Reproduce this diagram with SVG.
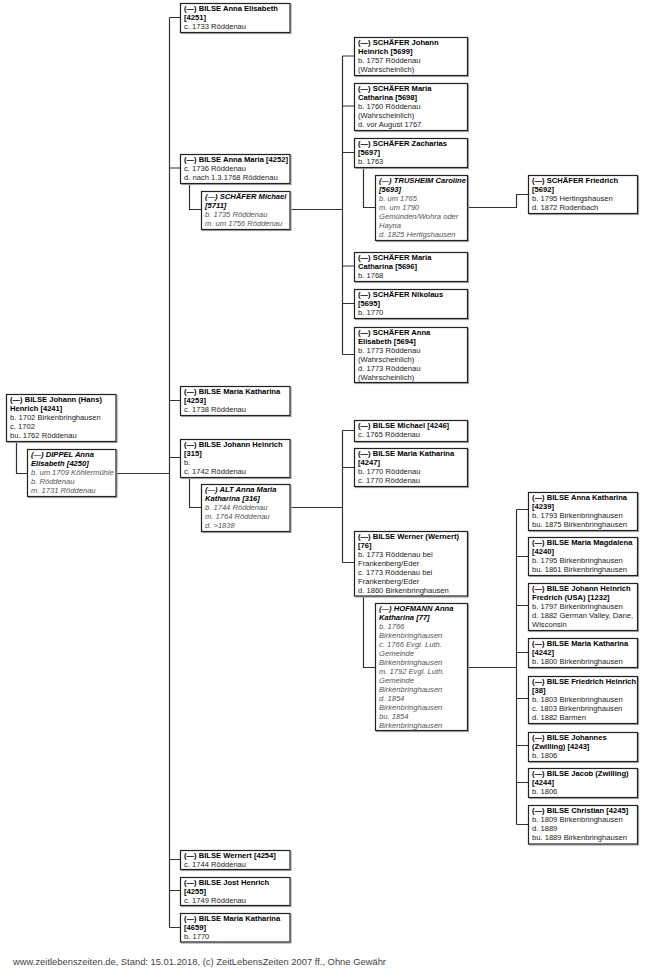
<svg xmlns="http://www.w3.org/2000/svg" width="650" height="969" viewBox="0 0 650 969">
<defs><filter id="sh" x="-5%" y="-5%" width="115%" height="120%"><feDropShadow dx="1" dy="1" stdDeviation="0" flood-color="#a0a0a0"/></filter></defs>
<style>
text{font-family:"Liberation Sans",Arial,sans-serif;font-size:7.6px;fill:#222}
.bx{fill:#fff;stroke:#222;stroke-width:1.2;filter:url(#sh)}
.b{font-weight:bold;fill:#000}
.bi{font-weight:bold;font-style:italic;fill:#000}
.i{font-style:italic;fill:#555}
.c{fill:none;stroke:#333;stroke-width:1.2}
.ft{font-size:9.4px;fill:#444}
</style>
<rect width="650" height="969" fill="#fff"/>
<g id="connectors">
<path class="c" d="M169.5 17.5V927.5M169.5 17.5H180M169.5 168H180M169.5 400.5H180M169.5 457.5H180M169.5 859.5H180M169.5 890.5H180M169.5 927.5H180"/>
<path class="c" d="M16.5 441V473.5H27M116 473.5H169.5"/>
<path class="c" d="M189.5 183V209.5H201M290 209.5H342.5"/>
<path class="c" d="M342.5 56V354.5M342.5 56H354M342.5 106H354M342.5 152.5H354M342.5 266H354M342.5 303.5H354M342.5 354.5H354"/>
<path class="c" d="M363.5 167V207.5H375M467 207.5H516.5V194.5H528"/>
<path class="c" d="M189.5 477V507.5H201M290 507.5H342.5"/>
<path class="c" d="M342.5 430.5V562.5M342.5 430.5H354M342.5 467.5H354M342.5 562.5H354"/>
<path class="c" d="M363.5 596V667.5H375M467 667.5H516.5"/>
<path class="c" d="M516.5 509.5V824.5M516.5 509.5H528M516.5 556.5H528M516.5 605.5H528M516.5 652.5H528M516.5 698.5H528M516.5 745.5H528M516.5 782.5H528M516.5 824.5H528"/>
</g>
<g id="n4241"><rect class="bx" x="6.5" y="394.5" width="109.5" height="47"/><text x="10" y="402.3"><tspan class="b">(—) BILSE Johann (Hans)</tspan><tspan class="b" x="10" dy="8.9">Henrich [4241]</tspan><tspan x="10" dy="8.9">b. 1702 Birkenbringhausen</tspan><tspan x="10" dy="8.9">c. 1702</tspan><tspan x="10" dy="8.9">bu. 1762 Röddenau</tspan></text></g>
<g id="n4250"><rect class="bx" x="27.5" y="449.5" width="88.5" height="47"/><text x="31" y="457.3"><tspan class="bi">(—) DIPPEL Anna</tspan><tspan class="bi" x="31" dy="8.9">Elisabeth [4250]</tspan><tspan class="i" x="31" dy="8.9">b. um 1709 Köhlermühle</tspan><tspan class="i" x="31" dy="8.9">b. Röddenau</tspan><tspan class="i" x="31" dy="8.9">m. 1731 Röddenau</tspan></text></g>
<g id="n4251"><rect class="bx" x="180.5" y="3.5" width="109.5" height="29"/><text x="184" y="11.3"><tspan class="b">(—) BILSE Anna Elisabeth</tspan><tspan class="b" x="184" dy="8.9">[4251]</tspan><tspan x="184" dy="8.9">c. 1733 Röddenau</tspan></text></g>
<g id="n4252"><rect class="bx" x="180.5" y="154.5" width="109.5" height="29"/><text x="184" y="162.3"><tspan class="b">(—) BILSE Anna Maria [4252]</tspan><tspan x="184" dy="8.9">c. 1736 Röddenau</tspan><tspan x="184" dy="8.9">d. nach 1.3.1768 Röddenau</tspan></text></g>
<g id="n5711"><rect class="bx" x="201.5" y="191.5" width="88.5" height="38"/><text x="205" y="199.3"><tspan class="bi">(—) SCHÄFER Michael</tspan><tspan class="bi" x="205" dy="8.9">[5711]</tspan><tspan class="i" x="205" dy="8.9">b. 1735 Röddenau</tspan><tspan class="i" x="205" dy="8.9">m. um 1756 Röddenau</tspan></text></g>
<g id="n5699"><rect class="bx" x="354.5" y="37.5" width="113" height="38"/><text x="358" y="45.3"><tspan class="b">(—) SCHÄFER Johann</tspan><tspan class="b" x="358" dy="8.9">Heinrich [5699]</tspan><tspan x="358" dy="8.9">b. 1757 Röddenau</tspan><tspan x="358" dy="8.9">(Wahrscheinlich)</tspan></text></g>
<g id="n5698"><rect class="bx" x="354.5" y="83.5" width="113" height="47"/><text x="358" y="91.3"><tspan class="b">(—) SCHÄFER Maria</tspan><tspan class="b" x="358" dy="8.9">Catharina [5698]</tspan><tspan x="358" dy="8.9">b. 1760 Röddenau</tspan><tspan x="358" dy="8.9">(Wahrscheinlich)</tspan><tspan x="358" dy="8.9">d. vor August 1767</tspan></text></g>
<g id="n5697"><rect class="bx" x="354.5" y="138.5" width="113" height="29"/><text x="358" y="146.3"><tspan class="b">(—) SCHÄFER Zacharias</tspan><tspan class="b" x="358" dy="8.9">[5697]</tspan><tspan x="358" dy="8.9">b. 1763</tspan></text></g>
<g id="n5693"><rect class="bx" x="375.5" y="175.5" width="92" height="65"/><text x="379" y="183.3"><tspan class="bi">(—) TRUSHEIM Caroline</tspan><tspan class="bi" x="379" dy="8.9">[5693]</tspan><tspan class="i" x="379" dy="8.9">b. um 1765</tspan><tspan class="i" x="379" dy="8.9">m. um 1790</tspan><tspan class="i" x="379" dy="8.9">Gemünden/Wohra oder</tspan><tspan class="i" x="379" dy="8.9">Hayna</tspan><tspan class="i" x="379" dy="8.9">d. 1825 Hertigshausen</tspan></text></g>
<g id="n5692"><rect class="bx" x="528.5" y="175.5" width="109" height="38"/><text x="532" y="183.3"><tspan class="b">(—) SCHÄFER Friedrich</tspan><tspan class="b" x="532" dy="8.9">[5692]</tspan><tspan x="532" dy="8.9">b. 1795 Hertingshausen</tspan><tspan x="532" dy="8.9">d. 1872 Rodenbach</tspan></text></g>
<g id="n5696"><rect class="bx" x="354.5" y="252.5" width="113" height="29"/><text x="358" y="260.3"><tspan class="b">(—) SCHÄFER Maria</tspan><tspan class="b" x="358" dy="8.9">Catharina [5696]</tspan><tspan x="358" dy="8.9">b. 1768</tspan></text></g>
<g id="n5695"><rect class="bx" x="354.5" y="289.5" width="113" height="29"/><text x="358" y="297.3"><tspan class="b">(—) SCHÄFER Nikolaus</tspan><tspan class="b" x="358" dy="8.9">[5695]</tspan><tspan x="358" dy="8.9">b. 1770</tspan></text></g>
<g id="n5694"><rect class="bx" x="354.5" y="327.5" width="113" height="55"/><text x="358" y="335.3"><tspan class="b">(—) SCHÄFER Anna</tspan><tspan class="b" x="358" dy="8.9">Elisabeth [5694]</tspan><tspan x="358" dy="8.9">b. 1773 Röddenau</tspan><tspan x="358" dy="8.9">(Wahrscheinlich)</tspan><tspan x="358" dy="8.9">d. 1773 Röddenau</tspan><tspan x="358" dy="8.9">(Wahrscheinlich)</tspan></text></g>
<g id="n4253"><rect class="bx" x="180.5" y="386.5" width="109.5" height="29"/><text x="184" y="394.3"><tspan class="b">(—) BILSE Maria Katharina</tspan><tspan class="b" x="184" dy="8.9">[4253]</tspan><tspan x="184" dy="8.9">c. 1738 Röddenau</tspan></text></g>
<g id="n315"><rect class="bx" x="180.5" y="439.5" width="109.5" height="38"/><text x="184" y="447.3"><tspan class="b">(—) BILSE Johann Heinrich</tspan><tspan class="b" x="184" dy="8.9">[315]</tspan><tspan x="184" dy="8.9">b.</tspan><tspan x="184" dy="8.9">c. 1742 Röddenau</tspan></text></g>
<g id="n316"><rect class="bx" x="201.5" y="484.5" width="88.5" height="47"/><text x="205" y="492.3"><tspan class="bi">(—) ALT Anna Maria</tspan><tspan class="bi" x="205" dy="8.9">Katharina [316]</tspan><tspan class="i" x="205" dy="8.9">b. 1744 Röddenau</tspan><tspan class="i" x="205" dy="8.9">m. 1764 Röddenau</tspan><tspan class="i" x="205" dy="8.9">d. &gt;1838</tspan></text></g>
<g id="n4246"><rect class="bx" x="354.5" y="420.5" width="113" height="21"/><text x="358" y="428.3"><tspan class="b">(—) BILSE Michael [4246]</tspan><tspan x="358" dy="8.9">c. 1765 Röddenau</tspan></text></g>
<g id="n4247"><rect class="bx" x="354.5" y="448.5" width="113" height="38"/><text x="358" y="456.3"><tspan class="b">(—) BILSE Maria Katharina</tspan><tspan class="b" x="358" dy="8.9">[4247]</tspan><tspan x="358" dy="8.9">b. 1770 Röddenau</tspan><tspan x="358" dy="8.9">c. 1770 Röddenau</tspan></text></g>
<g id="n76"><rect class="bx" x="354.5" y="531.5" width="113" height="64.5"/><text x="358" y="539.3"><tspan class="b">(—) BILSE Werner (Wernert)</tspan><tspan class="b" x="358" dy="8.9">[76]</tspan><tspan x="358" dy="8.9">b. 1773 Röddenau bei</tspan><tspan x="358" dy="8.9">Frankenberg/Eder</tspan><tspan x="358" dy="8.9">c. 1773 Röddenau bei</tspan><tspan x="358" dy="8.9">Frankenberg/Eder</tspan><tspan x="358" dy="8.9">d. 1860 Birkenbringhausen</tspan></text></g>
<g id="n77"><rect class="bx" x="375.5" y="603.5" width="92" height="127"/><text x="379" y="611.3"><tspan class="bi">(—) HOFMANN Anna</tspan><tspan class="bi" x="379" dy="8.95">Katharina [77]</tspan><tspan class="i" x="379" dy="8.95">b. 1766</tspan><tspan class="i" x="379" dy="8.95">Birkenbringhausen</tspan><tspan class="i" x="379" dy="8.95">c. 1766 Evgl. Luth.</tspan><tspan class="i" x="379" dy="8.95">Gemeinde</tspan><tspan class="i" x="379" dy="8.95">Birkenbringhausen</tspan><tspan class="i" x="379" dy="8.95">m. 1792 Evgl. Luth.</tspan><tspan class="i" x="379" dy="8.95">Gemeinde</tspan><tspan class="i" x="379" dy="8.95">Birkenbringhausen</tspan><tspan class="i" x="379" dy="8.95">d. 1854</tspan><tspan class="i" x="379" dy="8.95">Birkenbringhausen</tspan><tspan class="i" x="379" dy="8.95">bu. 1854</tspan><tspan class="i" x="379" dy="8.95">Birkenbringhausen</tspan></text></g>
<g id="n4239"><rect class="bx" x="528.5" y="492.5" width="109" height="38"/><text x="532" y="500.3"><tspan class="b">(—) BILSE Anna Katharina</tspan><tspan class="b" x="532" dy="8.9">[4239]</tspan><tspan x="532" dy="8.9">b. 1793 Birkenbringhausen</tspan><tspan x="532" dy="8.9">bu. 1875 Birkenbringhausen</tspan></text></g>
<g id="n4240"><rect class="bx" x="528.5" y="537.5" width="109" height="38"/><text x="532" y="545.3"><tspan class="b">(—) BILSE Maria Magdalena</tspan><tspan class="b" x="532" dy="8.9">[4240]</tspan><tspan x="532" dy="8.9">b. 1795 Birkenbringhausen</tspan><tspan x="532" dy="8.9">bu. 1861 Birkenbringhausen</tspan></text></g>
<g id="n1232"><rect class="bx" x="528.5" y="583.5" width="109" height="47"/><text x="532" y="591.3"><tspan class="b">(—) BILSE Johann Heinrich</tspan><tspan class="b" x="532" dy="8.9">Fredrich (USA) [1232]</tspan><tspan x="532" dy="8.9">b. 1797 Birkenbringhausen</tspan><tspan x="532" dy="8.9">d. 1882 German Valley, Dane,</tspan><tspan x="532" dy="8.9">Wisconsin</tspan></text></g>
<g id="n4242"><rect class="bx" x="528.5" y="638.5" width="109" height="29"/><text x="532" y="646.3"><tspan class="b">(—) BILSE Maria Katharina</tspan><tspan class="b" x="532" dy="8.9">[4242]</tspan><tspan x="532" dy="8.9">b. 1800 Birkenbringhausen</tspan></text></g>
<g id="n38"><rect class="bx" x="528.5" y="676.5" width="109" height="47"/><text x="532" y="684.3"><tspan class="b">(—) BILSE Friedrich Heinrich</tspan><tspan class="b" x="532" dy="8.9">[38]</tspan><tspan x="532" dy="8.9">b. 1803 Birkenbringhausen</tspan><tspan x="532" dy="8.9">c. 1803 Birkenbringhausen</tspan><tspan x="532" dy="8.9">d. 1882 Barmen</tspan></text></g>
<g id="n4243"><rect class="bx" x="528.5" y="732.5" width="109" height="29"/><text x="532" y="740.3"><tspan class="b">(—) BILSE Johannes</tspan><tspan class="b" x="532" dy="8.9">(Zwilling) [4243]</tspan><tspan x="532" dy="8.9">b. 1806</tspan></text></g>
<g id="n4244"><rect class="bx" x="528.5" y="768.5" width="109" height="29"/><text x="532" y="776.3"><tspan class="b">(—) BILSE Jacob (Zwilling)</tspan><tspan class="b" x="532" dy="8.9">[4244]</tspan><tspan x="532" dy="8.9">b. 1806</tspan></text></g>
<g id="n4245"><rect class="bx" x="528.5" y="805.5" width="109" height="38.5"/><text x="532" y="813.3"><tspan class="b">(—) BILSE Christian [4245]</tspan><tspan x="532" dy="8.9">b. 1809 Birkenbringhausen</tspan><tspan x="532" dy="8.9">d. 1889</tspan><tspan x="532" dy="8.9">bu. 1889 Birkenbringhausen</tspan></text></g>
<g id="n4254"><rect class="bx" x="180.5" y="850.5" width="109.5" height="19"/><text x="184" y="858.3"><tspan class="b">(—) BILSE Wernert [4254]</tspan><tspan x="184" dy="8.9">c. 1744 Röddenau</tspan></text></g>
<g id="n4255"><rect class="bx" x="180.5" y="877.5" width="109.5" height="28"/><text x="184" y="885.3"><tspan class="b">(—) BILSE Jost Henrich</tspan><tspan class="b" x="184" dy="8.9">[4255]</tspan><tspan x="184" dy="8.9">c. 1749 Röddenau</tspan></text></g>
<g id="n4659"><rect class="bx" x="180.5" y="913.5" width="109.5" height="28.5"/><text x="184" y="921.3"><tspan class="b">(—) BILSE Maria Katharina</tspan><tspan class="b" x="184" dy="8.9">[4659]</tspan><tspan x="184" dy="8.9">b. 1770</tspan></text></g>
<text class="ft" x="13" y="965">www.zeitlebenszeiten.de, Stand: 15.01.2018, (c) ZeitLebensZeiten 2007 ff., Ohne Gewähr</text>
</svg>
